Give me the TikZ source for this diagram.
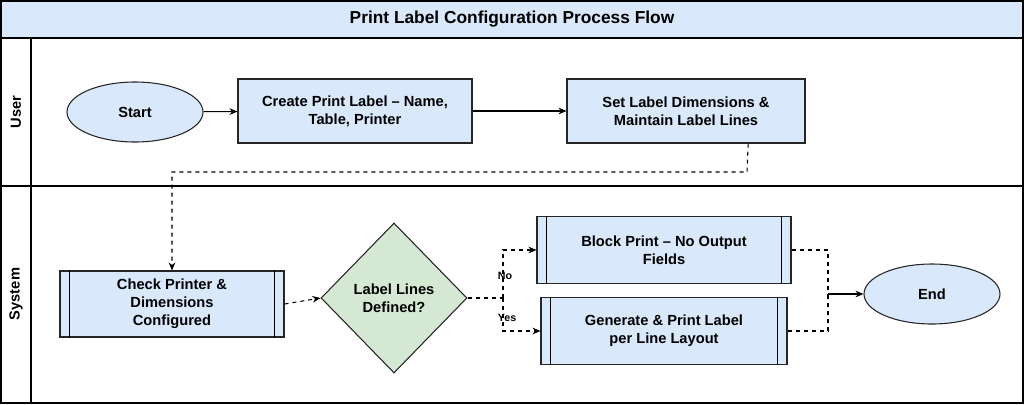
\documentclass[tikz,border=0pt]{standalone}
\usepackage{fontspec}
\setmainfont{Liberation Sans}
\usetikzlibrary{shapes.geometric,arrows.meta,calc}
\definecolor{bfill}{HTML}{DAE8FC}
\definecolor{gfill}{HTML}{D5E8D4}
\begin{document}
\begin{tikzpicture}[x=0.75pt,y=-0.75pt,
  box/.style={draw=black!85,fill=bfill,line width=0.8pt,align=center,font=\bfseries\fontsize{11}{13.5}\selectfont,inner sep=0pt},
  sub/.style={box},
  ell/.style={ellipse,draw=black!85,fill=bfill,line width=0.8pt,font=\bfseries\fontsize{11}{13}\selectfont,inner sep=0pt},
  conn/.style={-{Stealth[length=6pt,width=5pt]},line width=0.8pt},
  dconn/.style={conn,dashed},
  lbl/.style={font=\bfseries\fontsize{8}{9}\selectfont}]
\useasboundingbox (0,0) rectangle (1024,404);
% pool
\draw[line width=0.8pt,fill=bfill] (1,1) rectangle (1023,38);
\node[font=\bfseries\fontsize{13}{15}\selectfont] (title) at (512,19) {Print Label Configuration Process Flow};
\draw[line width=0.8pt] (1,38) rectangle (1023,403);
\draw[line width=0.8pt] (1,186) -- (1023,186);
\draw[line width=0.8pt] (31,38) -- (31,403);
\node[rotate=90,font=\bfseries\fontsize{11}{13}\selectfont] (luser) at (16,112) {User};
\node[rotate=90,font=\bfseries\fontsize{11}{13}\selectfont] (lsys) at (16,294) {System};
% nodes
\node[ell,minimum width=102pt,minimum height=45pt] (start) at (135,112) {Start};
\node[box,minimum width=175.5pt,minimum height=48pt] (create) at (355,111) {Create Print Label – Name,\\Table, Printer};
\node[box,minimum width=178.5pt,minimum height=48pt] (set) at (686,111) {Set Label Dimensions \&\\Maintain Label Lines};
\node[box,minimum width=168pt,minimum height=49.5pt] (check) at (172,304) {Check Printer \&\\Dimensions\\Configured};
\node[diamond,draw=black!85,fill=gfill,line width=0.8pt,minimum width=109.5pt,minimum height=112.5pt,inner sep=0pt,align=center,font=\bfseries\fontsize{11}{13.5}\selectfont] (dia) at (394,298) {Label Lines\\Defined?};
\node[box,minimum width=190.5pt,minimum height=50pt] (block) at (664,250) {Block Print – No Output\\Fields};
\node[box,minimum width=184.5pt,minimum height=50pt] (gen) at (664,331) {Generate \& Print Label\\per Line Layout};
\node[ell,minimum width=102pt,minimum height=45pt] (end) at (932,294) {End};
% subprocess bars
\foreach \n in {check,block,gen}{
  \draw[line width=0.8pt] ($(\n.north west)+(7.5pt,0)$) -- ($(\n.south west)+(7.5pt,0)$);
  \draw[line width=0.8pt] ($(\n.north east)+(-7.5pt,0)$) -- ($(\n.south east)+(-7.5pt,0)$);
}
% connectors
\draw[conn] (start) -- (create);
\draw[conn] (create) -- (set);
\coordinate (c1) at (747,172);
\draw[dconn] ($(set.south west)!0.76!(set.south east)$) -- (c1) -- (c1 -| check.north) -- (check.north);
\draw[dconn] (check.east) -- (dia.west);
\coordinate (sp) at (503,298);
\draw[dashed,line width=0.8pt] (dia.east) -- (sp);
\draw[dconn] (sp) -- (sp |- block.west) -- (block.west);
\draw[dconn] (sp) -- (sp |- gen.west) -- (gen.west);
\node[lbl] (no) at (505,276) {No};
\node[lbl] (yes) at (507,318) {Yes};
\coordinate (m) at (828,294);
\draw[dashed,line width=0.8pt] (block.east) -- (block.east -| m) -- (m);
\draw[dashed,line width=0.8pt] (gen.east) -- (gen.east -| m) -- (m);
\draw[conn] (m) -- (end.west);
\end{tikzpicture}
\end{document}
